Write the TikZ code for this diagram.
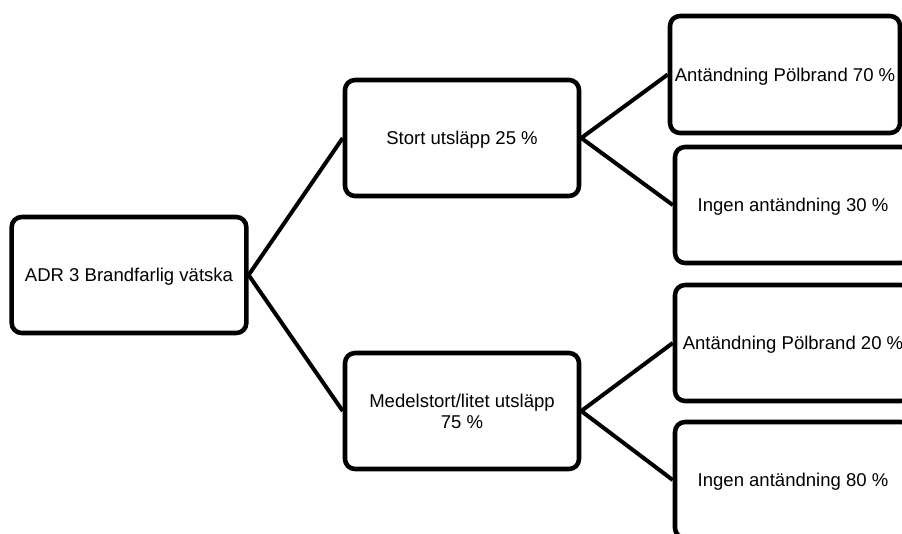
\documentclass[tikz,border=0pt]{standalone}
\usepackage{fontspec}
\setmainfont{Liberation Sans}
\usepackage{tikz}
\usetikzlibrary{positioning}

\begin{document}
\begin{tikzpicture}[x=0.75pt, y=-0.75pt, every node/.style={font=\fontsize{13.9}{15.5}\selectfont}]
\tikzstyle{box}=[draw, line width=3.4pt, rounded corners=7.5pt, align=center, text depth=0pt, minimum width=176pt, minimum height=87pt]
\tikzstyle{leaf}=[box, minimum width=177pt]
\tikzstyle{edge}=[line width=3pt]
\clip (0,0) rectangle (902,533);

\node[box] (adr) at (129,275) {ADR 3 Brandfarlig vätska};
\node[box, minimum width=175.5pt] (stort) at (462,138) {Stort utsläpp 25 \%};
\node[box, minimum width=175.5pt] (medel) at (462,411) {Medelstort/litet utsläpp\\75 \%};

\node[leaf, minimum width=172.5pt, minimum height=87.75pt] (stortbrand) at (785,74.5) {Antändning Pölbrand 70 \%};
\node[leaf] (stortingen) at (793,205) {Ingen antändning 30 \%};
\node[leaf] (medelbrand) at (793,343) {Antändning Pölbrand 20 \%};
\node[leaf] (medelingen) at (793,480) {Ingen antändning 80 \%};

\draw[edge] (adr.east) -- (stort.west);
\draw[edge] (adr.east) -- (medel.west);
\draw[edge] (stort.east) -- (stortbrand.west);
\draw[edge] (stort.east) -- (stortingen.west);
\draw[edge] (medel.east) -- (medelbrand.west);
\draw[edge] (medel.east) -- (medelingen.west);
\end{tikzpicture}
\end{document}
